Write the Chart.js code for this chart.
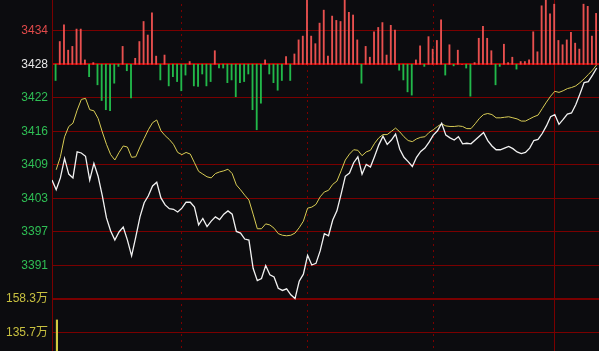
<!DOCTYPE html>
<html>
<head>
<meta charset="utf-8">
<script src="https://cdn.jsdelivr.net/npm/chart.js@4"></script>
<style>
  html, body { margin: 0; padding: 0; background: #0c0c0f; overflow: hidden; }
  #wrap { position: relative; width: 599px; height: 351px; overflow: hidden; }
  #chart { position: absolute; left: 0; top: -20px; }
</style>
</head>
<body>
<div id="wrap"><canvas id="chart" width="599" height="391"></canvas></div>
<script>
// previous close / baseline of the up-down bars
const baseLine = 3428;

// index price per minute (index 0 = 9:30)
const priceValues = [
  3406.6, 3404.8, 3407.0, 3410.6, 3407.7, 3407.0, 3411.8, 3411.6, 3411.0, 3406.6,
  3409.7, 3407.3, 3403.7, 3399.6, 3397.2, 3395.5, 3397.0, 3397.9, 3395.5, 3392.6,
  3396.1, 3399.8, 3402.4, 3403.7, 3405.5, 3406.2, 3403.3, 3402.0, 3401.3, 3401.2,
  3400.7, 3401.4, 3402.5, 3402.5, 3401.6, 3398.3, 3399.5, 3398.0, 3399.0, 3399.8,
  3399.3, 3400.3, 3400.9, 3400.3, 3397.1, 3396.8, 3395.7, 3395.5, 3390.3, 3388.0,
  3388.4, 3390.8, 3389.1, 3388.7, 3386.6, 3386.2, 3386.5, 3385.4, 3384.7, 3387.9,
  3389.2, 3392.7, 3390.9, 3391.2, 3393.5, 3396.7, 3396.3, 3399.2, 3400.9, 3404.0,
  3407.3, 3407.9, 3409.8, 3410.9, 3407.7, 3409.5, 3409.0, 3411.0, 3413.1, 3414.7,
  3413.2, 3414.0, 3415.1, 3412.3, 3410.8, 3410.0, 3409.1, 3410.8, 3411.9, 3412.5,
  3413.6, 3414.9, 3415.7, 3417.1, 3414.9, 3414.4, 3414.0, 3414.6, 3413.3, 3413.4,
  3413.3, 3414.0, 3414.7, 3415.4, 3413.9, 3412.9, 3412.2, 3412.2, 3412.5, 3412.8,
  3412.4, 3411.8, 3411.5, 3411.7, 3412.5, 3413.9, 3414.1, 3415.2, 3416.6, 3418.3,
  3418.7, 3416.9, 3417.8, 3418.8, 3419.0, 3420.5, 3422.5, 3424.6, 3424.8, 3426.0,
  3427.3
];

// average price per minute (starts at index 1)
const avgValues = [
  3408.5, 3410.9, 3414.6, 3416.5, 3417.1, 3419.5, 3421.5, 3421.7, 3419.6, 3419.4,
  3418.0, 3415.5, 3413.2, 3411.3, 3410.3, 3411.7, 3412.9, 3412.7, 3410.8, 3410.9,
  3412.7, 3414.3, 3415.9, 3417.2, 3417.7, 3415.7, 3414.8, 3414.1, 3413.2, 3411.7,
  3411.3, 3411.7, 3411.4, 3409.8, 3408.2, 3407.7, 3407.2, 3407.0, 3407.8, 3408.1,
  3408.3, 3408.6, 3407.8, 3405.7, 3404.8, 3403.8, 3402.9, 3400.3, 3397.6, 3397.6,
  3398.5, 3398.3, 3397.7, 3396.7, 3396.4, 3396.3, 3396.4, 3396.8, 3397.8, 3399.0,
  3401.4, 3401.6, 3402.1, 3403.5, 3404.4, 3404.7, 3405.8, 3406.4, 3408.3, 3410.3,
  3411.4, 3412.2, 3412.1, 3411.1, 3411.8, 3412.1, 3413.4, 3414.4, 3415.0, 3415.0,
  3415.6, 3416.2, 3415.5, 3414.6, 3413.9, 3413.7, 3414.2, 3414.5, 3414.6, 3415.4,
  3415.9, 3416.5, 3417.0, 3416.6, 3416.5, 3416.5, 3416.6, 3416.5, 3416.1, 3416.1,
  3417.0, 3418.0, 3418.7, 3418.9, 3418.7, 3418.1, 3418.1, 3418.2, 3418.3, 3418.1,
  3417.9, 3417.5, 3417.5, 3417.9, 3418.3, 3418.6, 3419.8, 3421.0, 3422.1, 3423.0,
  3422.8, 3423.1, 3423.5, 3423.7, 3424.0, 3424.6, 3425.3, 3426.1, 3426.9, 3427.9
];

// up/down strength bars, measured from the baseline (starts at index 1)
const barDelta = [
  -3.0, 4.2, 7.3, 2.6, 3.3, 6.5, 6.5, 0.8, -2.3, 0.3,
  -3.8, -6.7, -8.4, -8.6, -3.5, -0.4, 3.3, -1.2, -6.2, 1.1,
  4.2, 7.9, 5.4, 9.5, 1.5, -2.9, 1.7, -4.0, -2.3, -3.2,
  -4.9, -2.0, 0.5, -4.0, -4.1, -1.8, -4.0, -3.2, 2.5, -0.7,
  -0.7, -3.4, -2.9, -6.0, -3.4, -3.2, -1.8, -8.4, -12.1, -7.2,
  0.8, -1.8, -3.4, -4.8, -3.0, 1.4, -3.0, 1.9, 4.5, 5.2,
  11.8, 5.2, 3.8, 7.6, 10.0, 1.5, 8.9, 8.1, 7.9, 12.2,
  9.6, 9.1, 4.5, -3.5, 3.3, 1.3, 6.0, 6.8, 7.7, 1.7,
  7.2, 6.3, -1.1, -2.9, -5.1, -5.7, 0.8, 3.4, -0.4, 5.1,
  2.8, 4.4, 8.2, -2.0, 3.6, -0.3, 2.6, 0, -0.7, -5.9,
  0.3, 4.8, 7.0, 4.8, 2.5, -3.8, -0.4, 3.7, 0.3, 1.3,
  -0.9, 0.5, 0.5, 0.8, 6.0, 2.3, 10.8, 12.2, 9.3, 11.1,
  4.4, 3.6, 4.5, 5.9, 3.9, 2.8, 11.1, 10.7, 5.2, 9.4
];

// volume (万), only the first minute reaches into view
const volumeValues = [144.6];

// left axis ticks
const tickValues = [3440.4, 3434.2, 3428, 3421.8, 3415.6, 3409.4, 3403.2, 3397, 3390.8, 3384.6, 3378.4];
const tickLabels = ['3440', '3434', '3428', '3422', '3416', '3409', '3403', '3397', '3391', '158.3万', '135.7万'];
const volTopTick = 3384.6;

// half hour lines (minute index), last one is 11:30
const gridMinutes = [31, 61, 91, 120];

function labelColor(i) {
  const v = tickValues[i];
  if (v < volTopTick + 1) return '#c8c040';
  if (v > baseLine) return '#e04a4a';
  if (v === baseLine) return '#e6e6e6';
  return '#2fbf55';
}

const ctx = document.getElementById('chart').getContext('2d');
new Chart(ctx, {
  data: {
    datasets: [
      {
        type: 'line',
        label: 'price',
        data: priceValues.map((v, i) => ({x: i, y: v})),
        borderColor: '#f2f2f2',
        borderWidth: 1.3,
        pointRadius: 0,
        tension: 0,
        order: 0
      },
      {
        type: 'line',
        label: 'avg',
        data: avgValues.map((v, i) => ({x: i + 1, y: v})),
        borderColor: '#d8cc55',
        borderWidth: 1,
        pointRadius: 0,
        tension: 0,
        order: 1
      },
      {
        type: 'bar',
        label: 'strength',
        data: barDelta.map((d, i) => ({x: i + 1, y: [baseLine, baseLine + d]})),
        backgroundColor: barDelta.map(d => d >= 0 ? '#e8504f' : '#22b84a'),
        barThickness: 1.2,
        order: 2
      },
      {
        type: 'bar',
        label: 'volume',
        yAxisID: 'yv',
        data: volumeValues.map((v, i) => ({x: i + 1, y: v})),
        backgroundColor: '#d4cc40',
        barThickness: 1.5,
        order: 3
      }
    ]
  },
  options: {
    responsive: false,
    animation: false,
    devicePixelRatio: 1,
    layout: { padding: 0 },
    plugins: { legend: { display: false }, tooltip: { enabled: false } },
    scales: {
      x: {
        type: 'linear',
        offset: false,
        min: 0,
        max: 130.55,
        afterBuildTicks: s => { s.ticks = gridMinutes.map(v => ({value: v})); },
        afterFit: s => { s.height = 0; s.paddingLeft = 0; s.paddingRight = 0; },
        ticks: { display: false },
        border: {
          display: false,
          dash: c => (c.tick && c.tick.value === 120) ? [] : [2, 4]
        },
        grid: {
          offset: false,
          drawTicks: false,
          color: '#7a0000',
          lineWidth: 1
        }
      },
      y: {
        type: 'linear',
        position: 'left',
        min: 3371.31,
        max: 3443.57,
        afterBuildTicks: s => { s.ticks = tickValues.map(v => ({value: v})); },
        afterFit: s => { s.width = 52; s.paddingTop = 0; s.paddingBottom = 0; },
        ticks: {
          autoSkip: false,
          padding: 4,
          font: { family: '"Liberation Sans", Arial, "Noto Sans CJK SC"', size: 12 },
          color: c => labelColor(c.index),
          callback: (v, i) => tickLabels[i]
        },
        border: { display: true, color: '#7a0000', width: 1 },
        grid: {
          drawTicks: false,
          color: c => (c.tick && c.tick.value === baseLine) ? '#b80000' : '#7a0000',
          lineWidth: c => (c.tick && (c.tick.value === baseLine || c.tick.value === volTopTick)) ? 2 : 1
        }
      },
      yv: {
        type: 'linear',
        display: false,
        min: 109.0,
        max: 381.7
      }
    }
  }
});
</script>
</body>
</html>
